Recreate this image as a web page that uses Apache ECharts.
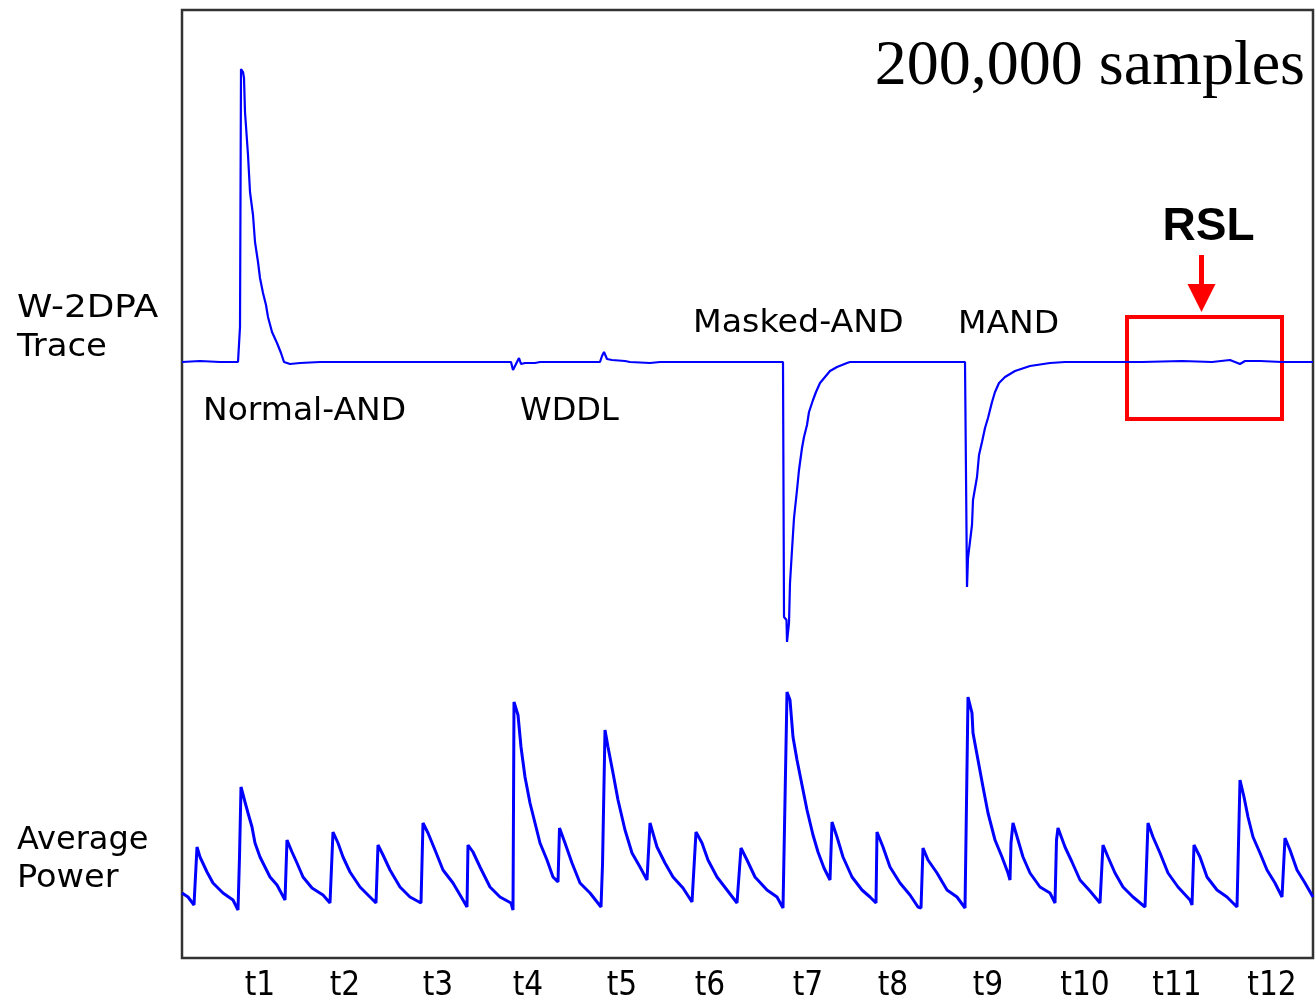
<!DOCTYPE html>
<html>
<head>
<meta charset="utf-8">
<script src="https://cdn.jsdelivr.net/npm/echarts@6/dist/echarts.min.js"></script>
<style>
  html, body { margin: 0; padding: 0; background: #ffffff; }
  #chart { width: 1316px; height: 1001px; }
</style>
</head>
<body>
<div id="chart"></div>
<script>
// Clock ticks along the time axis (time units) and their labels
const tickPositions = [78, 163, 256, 346, 440, 528, 626, 711, 806, 903, 995, 1090];
const tickLabels = ['t1', 't2', 't3', 't4', 't5', 't6', 't7', 't8', 't9', 't10', 't11', 't12'];

// W-2DPA trace: [time, amplitude relative to the flat level]
const w2dpaTrace = [
  [0, 0], [18, 1], [38, 0], [56, 0],
  // Normal-AND leakage peak
  [58, 35], [59, 293], [61, 290], [62, 284], [63, 250], [66, 207], [68, 170], [71, 147],
  [73, 120], [76, 100], [78, 84], [81, 69], [84, 57], [86, 45], [90, 30], [95, 19],
  [99, 9], [102, 0], [108, -2], [118, -1], [138, 0], [218, 0], [298, 0], [329, 0],
  // WDDL glitches
  [331, -8], [333, -4], [337, 4], [339, -2], [343, -1], [353, -1], [358, 0], [418, 0],
  [420, 6], [422, 10], [425, 3], [430, 2], [443, 1], [448, 0], [468, -1], [478, 0],
  [518, 0], [578, 0], [601, 0],
  // Masked-AND negative peak
  [602, -255], [604.5, -258], [605, -280], [607, -261], [608, -221], [610, -188], [612, -156],
  [615, -128], [617, -108], [620, -86], [622, -75], [625, -63], [627, -50], [631, -38],
  [634, -30], [638, -21], [643, -15], [648, -9], [655, -5], [665, -1], [668, 0],
  [718, 0], [783, 0],
  // MAND negative peak
  [785, -225], [785.5, -226], [786, -196], [790, -163], [791, -138], [795, -115], [797, -93],
  [800, -80], [803, -66], [806, -56], [810, -40], [813, -30], [817, -21], [823, -15],
  [833, -9], [848, -4], [868, -1], [883, 0],
  // RSL: flat
  [918, 0], [960, 0], [1000, 1], [1030, 0], [1048, 2], [1058, -2], [1063, 1], [1078, 1],
  [1100, 0], [1131, 0]
];

// Average power trace: [time, power]
const averagePower = [
  [0, 65], [6, 61], [12, 53],
  [14, 53], [15, 111], [18, 101], [25, 86], [31, 75], [41, 65], [51, 58], [56, 48],
  [57, 48], [57.5, 101], [59, 171], [63, 156], [66, 145], [70, 131], [73, 115], [78, 101],
  [83, 91], [88, 81], [95, 73], [103, 58],
  [104, 56], [105, 118], [110, 106], [115, 95], [121, 81], [130, 70], [141, 63], [148, 55],
  [149, 54], [151, 126], [156, 115], [161, 101], [168, 86], [178, 71], [188, 61], [194, 55],
  [195, 55], [196, 113], [201, 103], [208, 88], [218, 71], [228, 61], [239, 55],
  [240, 54], [241, 135], [246, 125], [253, 108], [261, 88], [271, 75], [281, 58], [285, 51],
  [285.5, 51], [286, 113], [291, 106], [298, 91], [308, 71], [318, 61], [329, 55], [331, 48],
  [331.5, 48], [332, 256], [336, 243], [339, 211], [343, 181], [348, 155], [353, 135],
  [358, 115], [365, 98], [371, 81], [376, 76],
  [376.5, 76], [377.5, 130], [383, 115], [390, 95], [398, 75], [408, 65], [419, 51],
  [420, 51], [420.5, 93], [423, 228], [426, 211], [431, 185], [436, 158], [443, 128],
  [450, 105], [458, 91], [465, 78],
  [466, 77], [468, 135], [475, 111], [483, 95], [491, 81], [501, 70], [510, 56],
  [511, 56], [514, 126], [520, 115], [526, 98], [535, 81], [545, 68], [555, 55],
  [556, 54], [559, 110], [565, 98], [573, 81], [585, 68], [595, 61], [601, 50],
  [602, 49], [605, 266], [608, 258], [611, 221], [615, 198], [620, 173], [625, 148],
  [631, 123], [636, 106], [642, 90], [648, 78],
  [648.5, 77], [650, 136], [655, 121], [661, 101], [670, 81], [680, 68], [688, 61], [694, 55],
  [694.5, 54], [695, 126], [701, 111], [708, 91], [718, 75], [728, 63], [736, 51], [739, 50],
  [739.5, 50], [741, 110], [746, 98], [755, 85], [765, 68], [775, 61], [783, 50],
  [784, 49], [786, 261], [790, 245], [791, 225], [796, 198], [801, 171], [806, 145],
  [813, 118], [820, 101], [826, 85], [828, 78],
  [828.5, 77], [829, 115], [831, 135], [836, 118], [841, 101], [848, 85], [858, 71],
  [868, 65], [873, 55],
  [874, 54], [874.5, 118], [876, 130], [883, 111], [890, 96], [898, 78], [908, 67], [918, 55],
  [919, 54], [921, 113], [926, 101], [933, 85], [941, 71], [951, 61], [963, 51],
  [965, 50], [966, 135], [971, 121], [978, 105], [986, 85], [996, 71], [1008, 58], [1010, 53],
  [1010.5, 53], [1012, 113], [1018, 101], [1025, 81], [1035, 68], [1045, 61], [1055, 51],
  [1056, 50], [1058, 178], [1062, 161], [1066, 141], [1071, 121], [1078, 105], [1085, 88],
  [1093, 75], [1100, 61],
  [1101, 60], [1103, 120], [1108, 108], [1115, 88], [1123, 75], [1131, 61]
];

// RSL observation window on the W-2DPA trace
const rslWindowTime = [945, 1100];
const rslWindowAmp = [-57, 45];

const chart = echarts.init(document.getElementById('chart'), null, { renderer: 'canvas' });

const labelFont = '32px "DejaVu Sans", sans-serif';

const option = {
  animation: false,
  backgroundColor: '#ffffff',
  grid: {
    left: 182, top: 10, width: 1131, height: 948,
    outerBoundsMode: 'none', containLabel: false,
    show: true, borderColor: '#333333', borderWidth: 2.5, backgroundColor: '#ffffff'
  },
  xAxis: {
    type: 'value', min: 0, max: 1131,
    axisLine: { show: false },
    axisTick: { show: false },
    splitLine: { show: false },
    axisLabel: {
      customValues: tickPositions,
      formatter: v => tickLabels[tickPositions.indexOf(v)] || '',
      color: '#000000',
      fontSize: 33,
      fontFamily: '"DejaVu Sans Condensed", "DejaVu Sans", sans-serif',
      margin: 12
    }
  },
  yAxis: [
    { type: 'value', min: -596, max: 352, show: false, splitLine: { show: false } },
    { type: 'value', min: 0, max: 948, show: false, splitLine: { show: false } }
  ],
  series: [
    {
      name: 'W-2DPA Trace', type: 'line', yAxisIndex: 0, data: w2dpaTrace,
      symbol: 'none', lineStyle: { color: '#0000ff', width: 2.2 }, z: 3,
      markArea: {
        silent: true,
        itemStyle: { color: 'rgba(0,0,0,0)', borderColor: '#ff0000', borderWidth: 4 },
        data: [[
          { coord: [rslWindowTime[0], rslWindowAmp[1]] },
          { coord: [rslWindowTime[1], rslWindowAmp[0]] }
        ]]
      }
    },
    {
      name: 'Average Power', type: 'line', yAxisIndex: 1, data: averagePower,
      symbol: 'none', lineStyle: { color: '#0000ff', width: 3 }, z: 3
    }
  ]
};
chart.setOption(option);

// Arrow and label above the RSL window
const winTop = chart.convertToPixel({ xAxisIndex: 0, yAxisIndex: 0 },
  [(rslWindowTime[0] + rslWindowTime[1]) / 2, rslWindowAmp[1]]);
const ax = winTop[0] - 3, ay = winTop[1] - 5;

const txt = (text, x, y, font, align, sx) => ({
  type: 'text', x: x, y: y, z: 10, scaleX: sx || 1,
  style: { text: text, font: font, fill: '#000000', textAlign: align || 'left', textVerticalAlign: 'middle' }
});

chart.setOption({
  graphic: [
    txt('W-2DPA', 17, 309, labelFont, 'left', 1.12),
    txt('Trace', 17, 348, labelFont, 'left', 1.06),
    txt('Average', 17, 841, labelFont),
    txt('Power', 17, 879, labelFont, 'left', 1.05),
    txt('Normal-AND', 203, 412, labelFont, 'left', 1.03),
    txt('WDDL', 520, 412, labelFont),
    txt('Masked-AND', 693, 324, labelFont, 'left', 1.04),
    txt('MAND', 958, 325, labelFont, 'left', 1.03),
    txt('200,000 samples', 1305, 67, '64px "Liberation Serif", "Times New Roman", serif', 'right'),
    txt('RSL', ax + 7, 227, 'bold 46px "Liberation Sans", Arial, sans-serif', 'center'),
    {
      type: 'line', z: 10,
      shape: { x1: ax, y1: ay - 57, x2: ax, y2: ay - 26 },
      style: { stroke: '#ff0000', lineWidth: 5 }
    },
    {
      type: 'polygon', z: 10,
      shape: { points: [[ax - 14, ay - 28], [ax + 14, ay - 28], [ax, ay]] },
      style: { fill: '#ff0000' }
    }
  ]
});
</script>
</body>
</html>
